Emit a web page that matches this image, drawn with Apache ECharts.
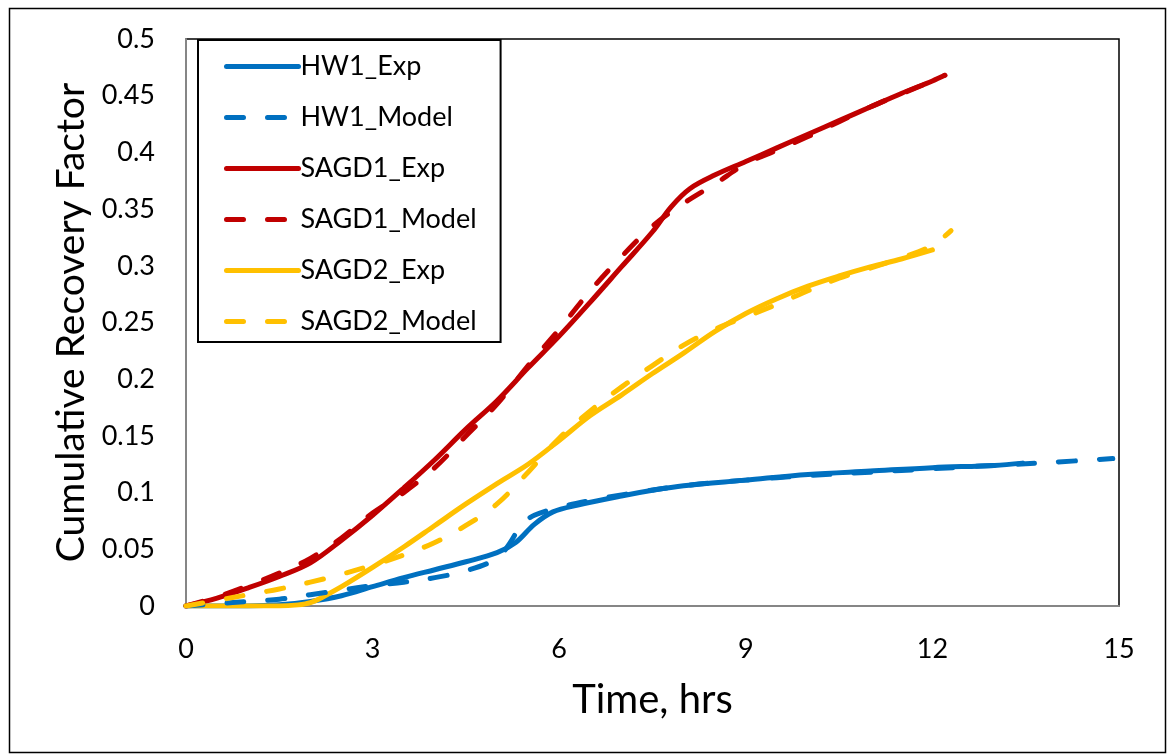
<!DOCTYPE html>
<html>
<head>
<meta charset="utf-8">
<script src="https://cdn.jsdelivr.net/npm/echarts@6/dist/echarts.min.js"></script>
<style>
html,body{margin:0;padding:0;background:#fff;}
#chart{width:1167px;height:756px;}
</style>
</head>
<body>
<div id="chart"></div>
<script>
const xTicks = [0, 3, 6, 9, 12, 15];
const yTicks = [0, 0.05, 0.1, 0.15, 0.2, 0.25, 0.3, 0.35, 0.4, 0.45, 0.5];

const hw1Exp = [[0,0],[1,0],[1.5,0.001],[2,0.004],[2.5,0.009],[3,0.017],[3.5,0.025],[4,0.032],[4.5,0.039],[5,0.047],[5.3,0.056],[5.6,0.072],[5.9,0.083],[6.3,0.089],[7,0.097],[7.5,0.102],[8,0.106],[9,0.111],[10,0.116],[11,0.119],[12,0.122],[13,0.124],[13.45,0.126]];
const hw1Model = [[0,0],[0.5,0.002],[1,0.004],[1.5,0.006],[2,0.010],[2.5,0.014],[3,0.018],[3.5,0.021],[4,0.025],[4.5,0.031],[5,0.042],[5.2,0.055],[5.4,0.072],[5.6,0.080],[6,0.087],[6.5,0.093],[7,0.098],[8,0.106],[9,0.111],[10,0.115],[11,0.118],[12,0.121],[13,0.124],[14,0.127],[14.9,0.130]];
const sagd1Exp = [[0,0],[0.5,0.007],[1,0.016],[1.5,0.026],[2,0.038],[2.5,0.058],[3,0.08],[3.5,0.104],[4,0.129],[4.5,0.156],[5,0.181],[5.5,0.21],[6,0.238],[6.5,0.268],[7,0.299],[7.5,0.33],[7.8,0.352],[8.1,0.368],[8.5,0.38],[9,0.392],[9.5,0.404],[10,0.416],[10.5,0.428],[11,0.44],[11.5,0.452],[12,0.463],[12.2,0.468]];
const sagd1Model = [[0,0],[0.5,0.008],[1,0.018],[1.5,0.029],[2,0.042],[2.5,0.06],[3,0.082],[3.5,0.1],[4,0.122],[4.5,0.15],[5,0.178],[5.5,0.212],[6,0.244],[6.5,0.278],[7,0.308],[7.5,0.335],[8,0.355],[8.5,0.372],[9,0.39],[9.5,0.402],[10,0.414],[11,0.44],[12,0.463],[12.2,0.468]];
const sagd2Exp = [[0,0],[0.5,0],[1,0],[1.5,0],[1.8,0.001],[2,0.003],[2.2,0.008],[2.5,0.017],[3,0.034],[3.5,0.052],[4,0.071],[4.5,0.09],[5,0.108],[5.5,0.125],[6,0.146],[6.5,0.168],[7,0.186],[7.5,0.205],[8,0.223],[8.5,0.242],[9,0.258],[9.5,0.271],[10,0.282],[10.5,0.291],[11,0.299],[11.5,0.306],[12,0.314]];
const sagd2Model = [[0,0],[0.5,0.005],[1,0.01],[1.5,0.015],[2,0.021],[2.5,0.028],[3,0.036],[3.5,0.045],[4,0.056],[4.5,0.071],[5,0.09],[5.5,0.118],[6,0.148],[6.5,0.172],[7,0.193],[7.5,0.212],[8,0.23],[8.5,0.244],[9,0.255],[9.5,0.266],[10,0.278],[10.5,0.289],[11,0.298],[11.5,0.307],[12,0.318],[12.3,0.331]];

const seriesNames = ['HW1_Exp','HW1_Model','SAGD1_Exp','SAGD1_Model','SAGD2_Exp','SAGD2_Model'];
const seriesData = [hw1Exp, hw1Model, sagd1Exp, sagd1Model, sagd2Exp, sagd2Model];
const seriesColors = ['#0070C0','#0070C0','#C00000','#C00000','#FFC000','#FFC000'];
const seriesDashed = [false, true, false, true, false, true];

const FONT = 'Lato, "Open Sans", sans-serif';
const chart = echarts.init(document.getElementById('chart'), null, {renderer:'canvas'});
chart.setOption({
  animation: false,
  backgroundColor: '#fff',
  graphic: [{
    type: 'rect', left: 7, top: 6, z: -1,
    shape: {width: 1156, height: 744},
    style: {fill: 'none', stroke: '#000', lineWidth: 1.5}
  }],
  grid: {left: 186, right: 48, top: 39, bottom: 150, show: true, borderColor: '#000', borderWidth: 1.5, backgroundColor: 'transparent'},
  legend: {
    orient: 'vertical', left: 198, top: 40,
    padding: [13, 24, 7, 26],
    backgroundColor: '#fff',
    borderColor: '#000', borderWidth: 2,
    itemWidth: 72, itemHeight: 14, itemGap: 24,
    itemStyle: {opacity: 0},
    lineStyle: {width: 5, cap: 'round'},
    textStyle: {fontFamily: FONT, fontSize: 27, color: '#000', padding: [0,0,0,-3]},
    data: seriesNames
  },
  xAxis: {
    type: 'value', min: 0, max: 15, interval: 3,
    name: 'Time, hrs', nameLocation: 'middle', nameGap: 74,
    nameTextStyle: {fontFamily: FONT, fontSize: 40, color: '#000'},
    axisLine: {show: true, onZero: false, lineStyle: {color: '#868686', width: 2}},
    axisTick: {show: false},
    splitLine: {show: false},
    axisLabel: {fontFamily: FONT, fontSize: 27, color: '#000', margin: 30,
      formatter: v => xTicks.includes(v) ? String(v) : ''}
  },
  yAxis: {
    type: 'value', min: 0, max: 0.5, interval: 0.05,
    name: 'Cumulative Recovery Factor', nameLocation: 'middle', nameGap: 94, nameRotate: 90,
    nameTextStyle: {fontFamily: FONT, fontSize: 39, color: '#000'},
    axisLine: {show: true, lineStyle: {color: '#868686', width: 2}},
    axisTick: {show: false},
    splitLine: {show: false},
    axisLabel: {fontFamily: FONT, fontSize: 27, color: '#000', margin: 31,
      formatter: v => { const t = yTicks.find(y => Math.abs(y - v) < 1e-9); return t === undefined ? '' : String(t); }}
  },
  series: seriesNames.map((n, i) => ({
    name: n, type: 'line', data: seriesData[i], smooth: 0.35,
    showSymbol: false, symbol: 'none',
    lineStyle: {color: seriesColors[i], width: 5, cap: 'round', join: 'round',
      type: seriesDashed[i] ? [17, 24] : 'solid'},
    itemStyle: {color: seriesColors[i]},
    z: seriesDashed[i] ? 3 : 2
  }))
});
</script>
</body>
</html>
